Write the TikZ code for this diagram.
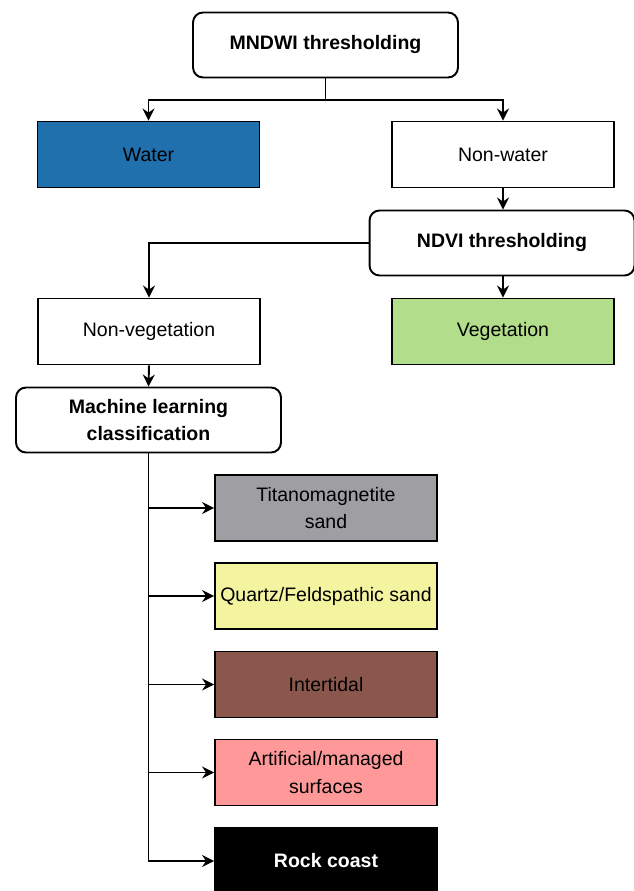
\documentclass[tikz,border=0pt]{standalone}
\usepackage{fontspec}
\setmainfont{Liberation Sans}
\usepackage{xcolor}
\usetikzlibrary{arrows.meta, positioning}

\definecolor{waterblue}{RGB}{31,112,173}
\definecolor{veggreen}{RGB}{178,221,138}
\definecolor{titangray}{RGB}{159,158,162}
\definecolor{quartzyellow}{RGB}{243,243,160}
\definecolor{tidalbrown}{RGB}{139,87,76}
\definecolor{artpink}{RGB}{255,153,153}

\begin{document}
\begin{tikzpicture}[
  x=0.02cm, y=-0.02cm,
  box/.style={draw, line width=1.1pt, align=center, inner sep=1pt,
              font=\fontsize{11.1}{15.9}\selectfont},
  proc/.style={box, rounded corners=0.2cm, minimum width=5.3cm, minimum height=1.3cm,
               font=\fontsize{11.1}{15.9}\selectfont\bfseries},
  cls/.style={box, minimum width=4.44cm, minimum height=1.32cm},
  arr/.style={-{Stealth[length=2.4mm, width=2.4mm, inset=0.8mm]}, line width=1.1pt},
]
\useasboundingbox (0,0) rectangle (634,891);

% water split
\node[proc] (mndwi) at (325.5,45) {MNDWI thresholding};
\node[cls, fill=waterblue] (water) at (148.5,154.5) {Water};
\node[cls] (nonwater) at (503,154.5) {Non-water};

% vegetation split
\node[proc] (ndvi) at (502,243) {NDVI thresholding};
\node[cls] (nonveg) at (149,331.5) {Non-vegetation};
\node[cls, fill=veggreen] (veg) at (503,331.5) {Vegetation};

% classification
\node[proc] (ml) at (148.5,420) {Machine learning\\classification};
\node[cls, fill=titangray] (titano) at (326,508) {Titanomagnetite\\sand};
\node[cls, fill=quartzyellow] (quartz) at (326,596) {Quartz/Feldspathic sand};
\node[cls, fill=tidalbrown] (inter) at (326,684.5) {Intertidal};
\node[cls, fill=artpink] (artif) at (326,772.5) {Artificial/managed\\surfaces};
\node[cls, fill=black, text=white, font=\fontsize{11.1}{15.9}\selectfont\bfseries] (rock) at (326,861) {Rock coast};

% arrows
\coordinate (split) at (325.5,100);
\draw[arr] (mndwi.south) -- (split) -| (water.north);
\draw[arr] (split) -| (nonwater.north);
\draw[arr] (nonwater.south) -- (ndvi.north -| nonwater.south);
\draw[arr] (ndvi.west) -| (nonveg.north);
\draw[arr] (ndvi.south -| veg.north) -- (veg.north);
\draw[arr] (nonveg.south) -- (ml.north);
\foreach \n in {titano, quartz, inter, artif, rock}
  \draw[arr] (ml.south) |- (\n.west);

\end{tikzpicture}
\end{document}
